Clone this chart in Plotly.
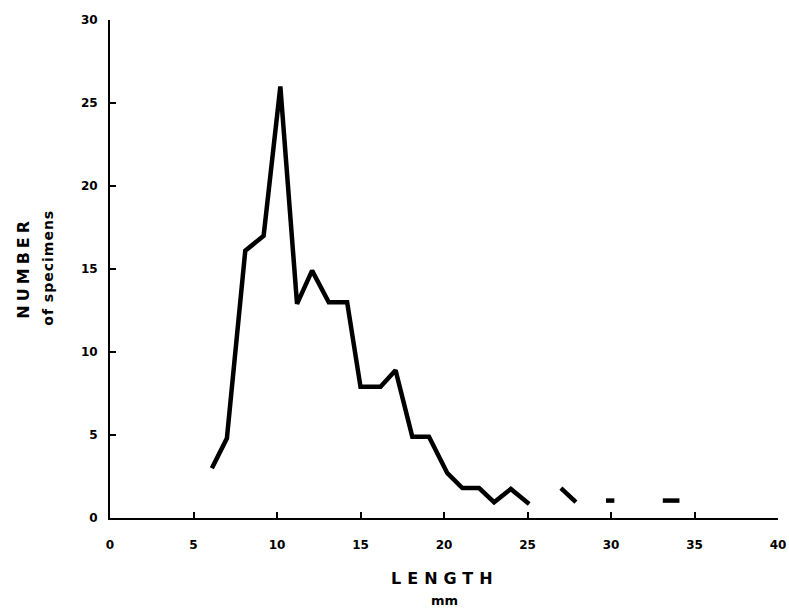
import plotly.graph_objects as go

# Main curve: length (mm) vs number of specimens
length_main = [6.1, 7.0, 8.1, 9.2, 10.2, 11.2, 12.1, 13.1, 14.2, 15.0, 16.2, 17.1,
               18.1, 19.1, 20.2, 21.1, 22.1, 23.0, 24.0, 25.1]
count_main = [3, 4.8, 16.1, 17, 26, 12.9, 14.9, 13, 13, 7.9, 7.9, 8.9,
              4.9, 4.9, 2.7, 1.8, 1.8, 0.95, 1.75, 0.85]

# Isolated short segments in the tail
seg1_x = [27.0, 27.9]
seg1_y = [1.8, 0.95]
seg2_x = [29.7, 30.2]
seg2_y = [1.05, 1.05]
seg3_x = [33.1, 34.1]
seg3_y = [1.05, 1.05]

x_ticks = [0, 5, 10, 15, 20, 25, 30, 35, 40]
y_ticks = [0, 5, 10, 15, 20, 25, 30]

FONT = "DejaVu Sans"
fig = go.Figure()
line_style = dict(color="black", width=4.5)
for xs, ys in [(length_main, count_main), (seg1_x, seg1_y), (seg2_x, seg2_y), (seg3_x, seg3_y)]:
    fig.add_trace(go.Scatter(x=xs, y=ys, mode="lines", line=line_style,
                             showlegend=False, hoverinfo="skip"))

fig.update_layout(
    width=789, height=616,
    margin=dict(l=110, r=11, t=20, b=98),
    paper_bgcolor="white", plot_bgcolor="white",
    font=dict(family=FONT, color="black"),
    xaxis=dict(range=[0, 40], tickvals=x_ticks, ticktext=[str(v) for v in x_ticks],
               showgrid=False, zeroline=False, showline=True, linecolor="black",
               linewidth=2, ticks="inside", ticklen=6, tickwidth=2, tickcolor="black",
               tickfont=dict(family=FONT, size=12, color="black", weight="bold"),
               ticklabelstandoff=15, automargin=False),
    yaxis=dict(range=[0, 30], tickvals=y_ticks, ticktext=[str(v) for v in y_ticks],
               showgrid=False, zeroline=False, showline=True, linecolor="black",
               linewidth=2, ticks="inside", ticklen=6, tickwidth=2, tickcolor="black",
               tickfont=dict(family=FONT, size=12, color="black", weight="bold"),
               ticklabelstandoff=8, automargin=False),
)

ann = [
    dict(text='<span style="letter-spacing:6px">LENGTH</span>', x=0.502, y=-0.121,
         font=dict(size=16, weight="bold")),
    dict(text="mm", x=0.501, y=-0.165, font=dict(size=13, weight="bold")),
    dict(text='<span style="letter-spacing:4px">NUMBER</span>', x=-0.130, y=0.503,
         textangle=-90, font=dict(size=16, weight="bold")),
    dict(text='<span style="letter-spacing:1px">of specimens</span>', x=-0.094, y=0.503,
         textangle=-90, font=dict(size=14, weight="bold")),
]
for a in ann:
    fig.add_annotation(xref="paper", yref="paper", showarrow=False,
                       xanchor="center", yanchor="middle", **a)

fig.write_html("out.html")
